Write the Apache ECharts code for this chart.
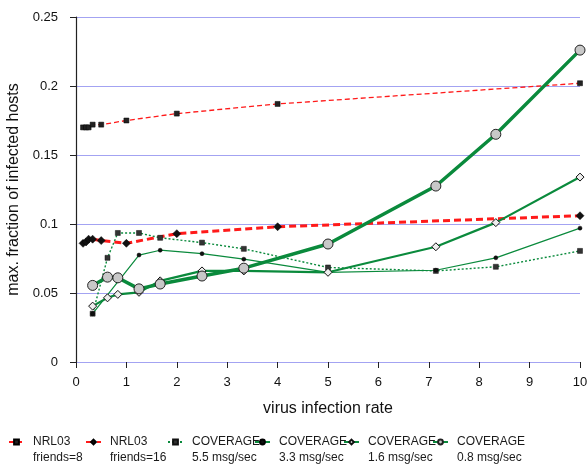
<!DOCTYPE html>
<html>
<head>
<meta charset="utf-8">
<script src="https://cdn.jsdelivr.net/npm/echarts@6/dist/echarts.min.js"></script>
<style>
html,body{margin:0;padding:0;background:#fff;}
#chart{width:588px;height:466px;}
</style>
</head>
<body>
<div id="chart"></div>
<script>
// ---- data ----
var xNrl = [0.14, 0.2, 0.25, 0.33, 0.5, 1, 2, 4, 10];
var yNrlFriends8 = [0.170, 0.170, 0.170, 0.172, 0.172, 0.175, 0.180, 0.187, 0.202];
var yNrlFriends16 = [0.086, 0.087, 0.089, 0.089, 0.088, 0.086, 0.093, 0.098, 0.106];

var xCov = [0.33, 0.625, 0.83, 1.25, 1.67, 2.5, 3.33, 5, 7.14, 8.33, 10];
var yCov55 = [0.035, 0.0755, 0.0935, 0.0935, 0.090, 0.0865, 0.082, 0.0685, 0.066, 0.069, 0.0805];
var xCov33 = [0.33, 1.25, 1.67, 2.5, 3.33, 5, 7.14, 8.33, 10];
var yCov33 = [0.035, 0.0775, 0.081, 0.0785, 0.0745, 0.065, 0.0665, 0.0755, 0.097];
var yCov16 = [0.0405, 0.0465, 0.049, 0.0505, 0.0588, 0.066, 0.066, 0.065, 0.0835, 0.101, 0.134];
var yCov08 = [0.0555, 0.0615, 0.061, 0.053, 0.0565, 0.0623, 0.068, 0.0855, 0.1275, 0.165, 0.226];

var seriesNames = ['NRL03\nfriends=8', 'NRL03\nfriends=16', 'COVERAGE\n5.5 msg/sec',
                   'COVERAGE\n3.3 msg/sec', 'COVERAGE\n1.6 msg/sec', 'COVERAGE\n0.8 msg/sec'];
var xTicks = [0, 1, 2, 3, 4, 5, 6, 7, 8, 9, 10];

function pairs(xs, ys) { return xs.map(function (x, i) { return [x, ys[i]]; }); }

var RED = '#ff1a1a';
var GREEN = '#0a8a3c';
var GRIDC = '#a3a3f2';

var legendLefts = [8, 85, 167, 254, 343, 432];
var legends = seriesNames.map(function (n, i) {
  return {
    data: [n],
    left: legendLefts[i],
    top: 418,
    padding: 0,
    itemWidth: 15,
    itemHeight: 6,
    selectedMode: false,
    formatter: function (name) { return ' \n' + name; },
    textStyle: {
      fontFamily: 'Liberation Sans, Arial, sans-serif',
      fontSize: 12,
      color: '#1a1a1a',
      lineHeight: 16,
      padding: [0, 0, 0, 4]
    }
  };
});

var option = {
  animation: false,
  backgroundColor: '#fff',
  textStyle: { fontFamily: 'Liberation Sans, Arial, sans-serif' },
  grid: { left: 76, right: 8, top: 17, bottom: 104, outerBoundsMode: 'none', containLabel: false },
  legend: legends,
  xAxis: {
    type: 'value', min: 0, max: 10, interval: 1,
    name: 'virus infection rate', nameLocation: 'middle', nameGap: 39,
    nameTextStyle: { fontSize: 16, color: '#111' },
    axisLine: { show: true, lineStyle: { color: GRIDC, width: 1 } },
    axisTick: { show: true, length: 6, lineStyle: { color: '#222' } },
    axisLabel: { fontSize: 13, color: '#111', margin: 14,
      formatter: function (v) { return xTicks.indexOf(v) >= 0 ? String(v) : ''; } },
    splitLine: { show: false }
  },
  yAxis: {
    type: 'value', min: 0, max: 0.25, interval: 0.05,
    name: 'max. fraction of infected hosts', nameLocation: 'middle', nameGap: 47,
    nameTextStyle: { fontSize: 16, color: '#111' },
    axisLine: { show: true, lineStyle: { color: '#222', width: 1.2 } },
    axisTick: { show: true, length: 6, lineStyle: { color: '#222' } },
    axisLabel: { fontSize: 13, color: '#111', margin: 18 },
    splitLine: { show: true, lineStyle: { color: GRIDC, width: 1 } }
  },
  series: [
    { name: seriesNames[0], type: 'line', data: pairs(xNrl, yNrlFriends8),
      symbol: 'rect', symbolSize: 5, z: 3,
      lineStyle: { color: RED, width: 1.3, type: [5, 3] },
      itemStyle: { color: '#222', borderColor: '#000', borderWidth: 0.5 } },
    { name: seriesNames[1], type: 'line', data: pairs(xNrl, yNrlFriends16),
      symbol: 'diamond', symbolSize: 8, z: 3,
      lineStyle: { color: RED, width: 3, type: [7, 4] },
      itemStyle: { color: '#111', borderColor: '#000', borderWidth: 0.5 } },
    { name: seriesNames[2], type: 'line', data: pairs(xCov, yCov55),
      symbol: 'rect', symbolSize: 5, z: 4,
      lineStyle: { color: GREEN, width: 1.4, type: [2, 2] },
      itemStyle: { color: '#333', borderColor: '#111', borderWidth: 0.5 } },
    { name: seriesNames[3], type: 'line', data: pairs(xCov33, yCov33),
      symbol: 'circle', symbolSize: 4, z: 4,
      lineStyle: { color: GREEN, width: 1.2 },
      itemStyle: { color: '#111', borderColor: '#000', borderWidth: 0.5 } },
    { name: seriesNames[4], type: 'line', data: pairs(xCov, yCov16),
      symbol: 'diamond', symbolSize: 8, z: 5,
      lineStyle: { color: GREEN, width: 2.2 },
      itemStyle: { color: '#eee', borderColor: '#111', borderWidth: 1 } },
    { name: seriesNames[5], type: 'line', data: pairs(xCov, yCov08),
      symbol: 'circle', symbolSize: 10, z: 6,
      lineStyle: { color: GREEN, width: 3.5 },
      itemStyle: { color: '#c8c8c8', borderColor: '#222', borderWidth: 1 } }
  ]
};

var chart = echarts.init(document.getElementById('chart'), null, { renderer: 'canvas' });
chart.setOption(option);
</script>
</body>
</html>
